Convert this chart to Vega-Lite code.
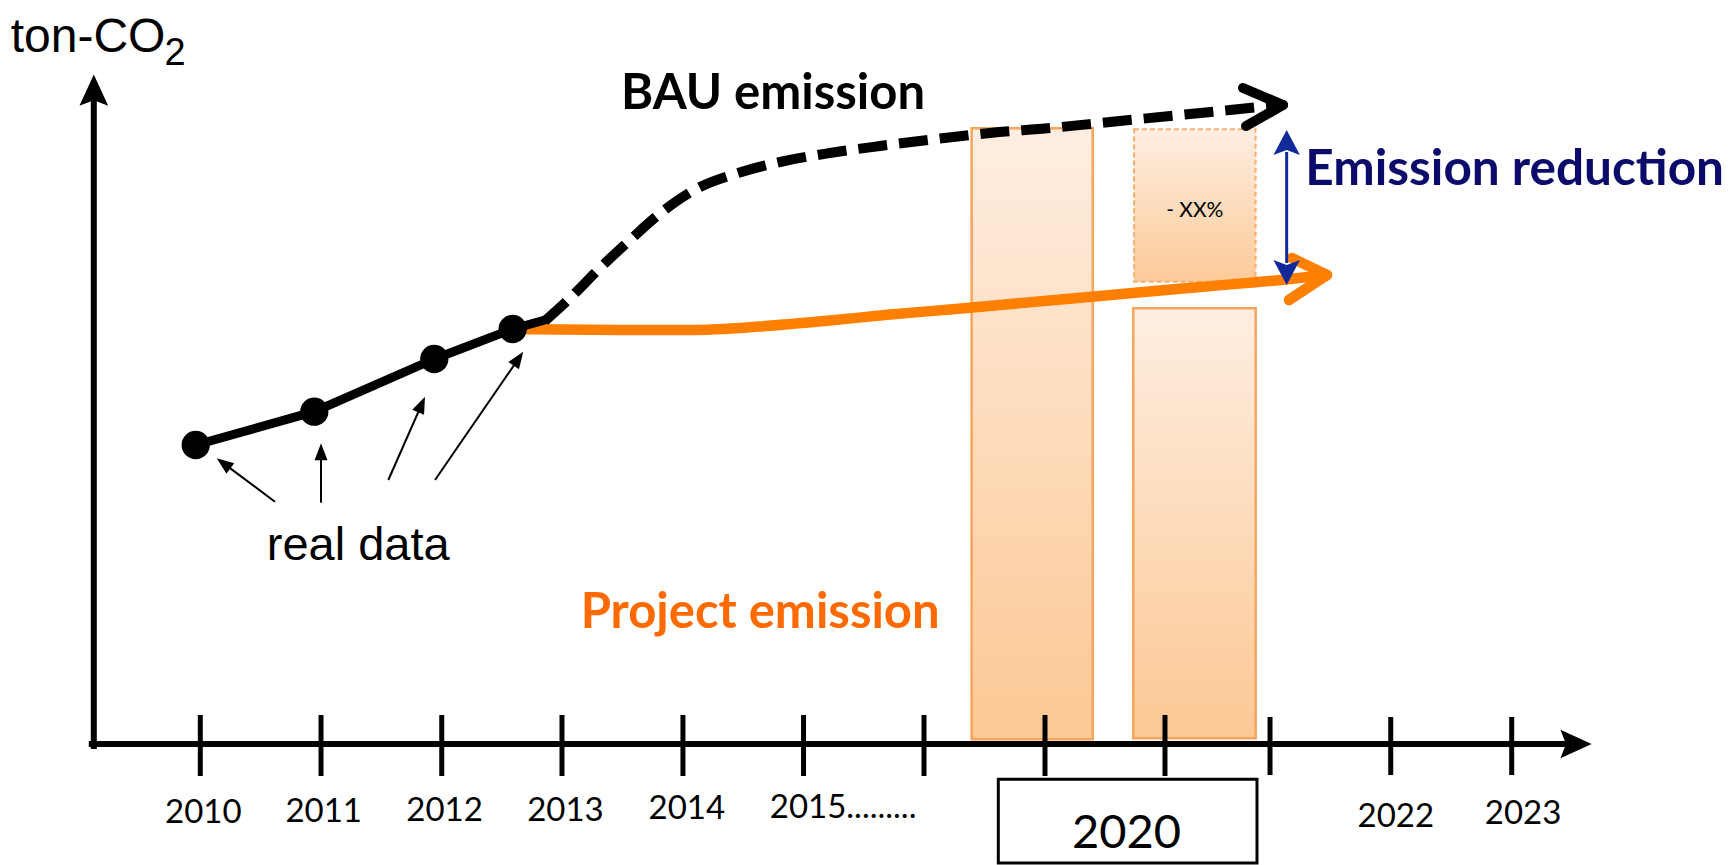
{
  "$schema": "https://vega.github.io/schema/vega-lite/v6.json",
  "width": 1729,
  "height": 865,
  "padding": 0,
  "autosize": "none",
  "background": "white",
  "config": {"view": {"stroke": null}},
  "datasets": {
    "bars": [
      {"bar": "2020 BAU", "x": 2016.396, "x2": 2017.400, "y": 0.47, "y2": 61.57},
      {"bar": "2020 project", "x": 2017.736, "x2": 2018.751, "y": 0.57, "y2": 43.57}
    ],
    "reductionBox": [
      {"bar": "2020 reduction", "x": 2017.742, "x2": 2018.750, "y": 46.23, "y2": 61.47}
    ],
    "frame": [
      {"x": 2016.617, "x2": 2018.762, "y": -3.53, "y2": -11.9}
    ],
    "ticks": [
      {"x": 2010.000, "y": -3.2, "y2": 2.9},
      {"x": 2011.001, "y": -3.2, "y2": 2.9},
      {"x": 2012.002, "y": -3.2, "y2": 2.9},
      {"x": 2012.999, "y": -3.2, "y2": 2.9},
      {"x": 2014.002, "y": -3.2, "y2": 2.9},
      {"x": 2015.002, "y": -3.2, "y2": 2.9},
      {"x": 2016.001, "y": -3.2, "y2": 2.9},
      {"x": 2017.004, "y": -3.2, "y2": 2.9},
      {"x": 2017.999, "y": -3.2, "y2": 2.9},
      {"x": 2018.870, "y": -3.1, "y2": 2.7},
      {"x": 2019.871, "y": -3.1, "y2": 2.7},
      {"x": 2020.874, "y": -3.1, "y2": 2.7}
    ],
    "axes": [
      {"axis": "x", "x": 2009.10, "y": 0, "x2": 2021.36, "y2": 0},
      {"axis": "y", "x": 2009.117, "y": -0.2, "x2": 2009.117, "y2": 64.3}
    ],
    "axisHeads": [
      {"axis": "x", "x": 2021.537, "y": 0, "heading": 90},
      {"axis": "y", "x": 2009.117, "y": 66.94, "heading": 0}
    ],
    "yearLabels": [
      {"label": "2010", "x": 2010.025, "y": -7.93},
      {"label": "2011", "x": 2011.023, "y": -7.77},
      {"label": "2012", "x": 2012.025, "y": -7.67},
      {"label": "2013", "x": 2013.028, "y": -7.67},
      {"label": "2014", "x": 2014.034, "y": -7.53},
      {"label": "2022", "x": 2019.913, "y": -8.27},
      {"label": "2023", "x": 2020.968, "y": -8.0}
    ],
    "history": [
      {"x": 2009.962, "y": 29.9},
      {"x": 2010.945, "y": 33.23},
      {"x": 2011.940, "y": 38.5},
      {"x": 2012.590, "y": 41.5},
      {"x": 2012.858, "y": 42.4}
    ],
    "observed": [
      {"year": "2010", "x": 2009.962, "y": 29.9},
      {"year": "2011", "x": 2010.945, "y": 33.23},
      {"year": "2012", "x": 2011.940, "y": 38.5},
      {"year": "2013", "x": 2012.590, "y": 41.5}
    ],
    "bau": [
      {"x": 2012.857, "y": 42.3},
      {"x": 2013.066, "y": 44.6},
      {"x": 2013.314, "y": 47.6},
      {"x": 2013.563, "y": 50.4},
      {"x": 2013.828, "y": 53.2},
      {"x": 2014.127, "y": 55.6},
      {"x": 2014.459, "y": 57.1},
      {"x": 2014.807, "y": 58.2},
      {"x": 2015.221, "y": 59.1},
      {"x": 2015.636, "y": 59.8},
      {"x": 2016.134, "y": 60.55},
      {"x": 2016.548, "y": 61.1},
      {"x": 2017.046, "y": 61.6},
      {"x": 2017.543, "y": 62.2},
      {"x": 2018.041, "y": 62.8},
      {"x": 2018.538, "y": 63.4},
      {"x": 2018.961, "y": 63.95}
    ],
    "project": [
      {"x": 2012.610, "y": 41.5},
      {"x": 2012.983, "y": 41.45},
      {"x": 2013.480, "y": 41.4},
      {"x": 2014.061, "y": 41.4},
      {"x": 2014.641, "y": 41.75},
      {"x": 2015.221, "y": 42.35},
      {"x": 2015.719, "y": 42.95},
      {"x": 2016.216, "y": 43.45},
      {"x": 2016.631, "y": 43.9},
      {"x": 2017.460, "y": 44.8},
      {"x": 2018.289, "y": 45.7},
      {"x": 2019.036, "y": 46.5},
      {"x": 2019.330, "y": 46.9}
    ],
    "chevrons": [
      {"series": "BAU", "x": 2018.978, "y": 63.9, "x2": 2018.646, "y2": 65.6},
      {"series": "BAU", "x": 2018.978, "y": 63.9, "x2": 2018.671, "y2": 61.8},
      {"series": "Project", "x": 2019.342, "y": 46.9, "x2": 2019.052, "y2": 48.6},
      {"series": "Project", "x": 2019.342, "y": 46.9, "x2": 2019.027, "y2": 44.4}
    ],
    "reductionArrow": [
      {"x": 2019.008, "y": 48.1, "x2": 2019.008, "y2": 59.2}
    ],
    "reductionHeads": [
      {"x": 2019.008, "y": 61.4, "heading": 0},
      {"x": 2019.008, "y": 45.9, "heading": 180}
    ],
    "pointers": [
      {"x": 2010.619, "y": 24.23, "x2": 2010.190, "y2": 28.09},
      {"x": 2011.001, "y": 24.13, "x2": 2011.001, "y2": 29.27},
      {"x": 2011.559, "y": 26.4, "x2": 2011.837, "y2": 34.0},
      {"x": 2011.946, "y": 26.4, "x2": 2012.641, "y2": 38.57}
    ],
    "pointerHeads": [
      {"x": 2010.136, "y": 28.57, "heading": 306.7},
      {"x": 2011.001, "y": 30.07, "heading": 0},
      {"x": 2011.863, "y": 34.73, "heading": 23.8},
      {"x": 2012.678, "y": 39.23, "heading": 34.5}
    ],
    "notes": [
      {"note": "ton-CO", "x": 2008.428, "y": 69.23},
      {"note": "2", "x": 2009.704, "y": 67.9},
      {"note": "real data", "x": 2010.551, "y": 18.4},
      {"note": "BAU emission", "x": 2013.488, "y": 63.47},
      {"note": "Project emission", "x": 2013.154, "y": 11.57},
      {"note": "Emission reduction", "x": 2019.163, "y": 55.9},
      {"note": "- XX%", "x": 2018.246, "y": 52.7},
      {"note": "2015.........", "x": 2014.722, "y": -7.43},
      {"note": "2020", "x": 2017.680, "y": -10.4}
    ]
  },
  "encoding": {
    "x": {"field": "x", "type": "quantitative", "scale": {"domain": [2008.3391, 2022.6758], "nice": false, "zero": false}, "axis": null},
    "y": {"field": "y", "type": "quantitative", "scale": {"domain": [-12.1, 74.4], "nice": false, "zero": false}, "axis": null}
  },
  "layer": [
    {
      "data": {"name": "bars"},
      "mark": {"type": "rect", "stroke": "#F7A45E", "strokeWidth": 2.5,
        "fill": {"gradient": "linear", "x1": 0, "y1": 0, "x2": 0, "y2": 1,
          "stops": [{"offset": 0, "color": "#FEEEE1"}, {"offset": 1, "color": "#FCC894"}]}},
      "encoding": {"x2": {"field": "x2"}, "y2": {"field": "y2"}}
    },
    {
      "data": {"name": "reductionBox"},
      "mark": {"type": "rect", "stroke": "#F8B070", "strokeWidth": 2, "strokeDash": [5, 3],
        "fill": {"gradient": "linear", "x1": 0, "y1": 0, "x2": 0, "y2": 1,
          "stops": [{"offset": 0, "color": "#FEEEE1"}, {"offset": 1, "color": "#FCCA98"}]}},
      "encoding": {"x2": {"field": "x2"}, "y2": {"field": "y2"}}
    },
    {
      "data": {"name": "frame"},
      "mark": {"type": "rect", "fill": "white", "stroke": "black", "strokeWidth": 3},
      "encoding": {"x2": {"field": "x2"}, "y2": {"field": "y2"}}
    },
    {
      "data": {"name": "ticks"},
      "mark": {"type": "rule", "color": "black", "strokeWidth": 5},
      "encoding": {"y2": {"field": "y2"}}
    },
    {
      "data": {"name": "axes"},
      "mark": {"type": "rule", "color": "black", "strokeWidth": 6, "strokeCap": "square"},
      "encoding": {"x2": {"field": "x2"}, "y2": {"field": "y2"}}
    },
    {
      "data": {"name": "axisHeads"},
      "mark": {"type": "point", "shape": "M0,0L0.46,1L0,0.82L-0.46,1Z", "size": 3900, "filled": true, "color": "black", "opacity": 1, "strokeWidth": 0},
      "encoding": {"angle": {"field": "heading", "type": "quantitative", "scale": null}}
    },
    {
      "data": {"name": "yearLabels"},
      "mark": {"type": "text", "font": "Lato", "fontSize": 33, "align": "center", "baseline": "alphabetic", "color": "black"},
      "encoding": {"text": {"field": "label"}}
    },
    {
      "data": {"name": "notes"},
      "transform": [{"filter": "datum.note === '2015.........'"}],
      "mark": {"type": "text", "font": "Lato", "fontSize": 33, "align": "left", "baseline": "alphabetic", "color": "black"},
      "encoding": {"text": {"field": "note"}}
    },
    {
      "data": {"name": "notes"},
      "transform": [{"filter": "datum.note === '2020'"}],
      "mark": {"type": "text", "font": "Lato", "fontSize": 47, "align": "center", "baseline": "alphabetic", "color": "black"},
      "encoding": {"text": {"field": "note"}}
    },
    {
      "data": {"name": "project"},
      "mark": {"type": "line", "color": "#FF7F00", "strokeWidth": 10.5, "interpolate": "monotone", "strokeCap": "butt"}
    },
    {
      "data": {"name": "bau"},
      "mark": {"type": "line", "color": "black", "strokeWidth": 10, "strokeDash": [29, 12], "interpolate": "monotone", "strokeCap": "butt"}
    },
    {
      "data": {"name": "history"},
      "mark": {"type": "line", "color": "black", "strokeWidth": 9, "strokeCap": "round", "strokeJoin": "round"}
    },
    {
      "data": {"name": "observed"},
      "mark": {"type": "point", "shape": "circle", "size": 800, "filled": true, "color": "black", "opacity": 1, "strokeWidth": 0}
    },
    {
      "data": {"name": "chevrons"},
      "transform": [{"filter": "datum.series === 'BAU'"}],
      "mark": {"type": "rule", "color": "black", "strokeWidth": 10, "strokeCap": "round"},
      "encoding": {"x2": {"field": "x2"}, "y2": {"field": "y2"}}
    },
    {
      "data": {"name": "chevrons"},
      "transform": [{"filter": "datum.series === 'Project'"}],
      "mark": {"type": "rule", "color": "#FF7F00", "strokeWidth": 10.5, "strokeCap": "round"},
      "encoding": {"x2": {"field": "x2"}, "y2": {"field": "y2"}}
    },
    {
      "data": {"name": "reductionArrow"},
      "mark": {"type": "rule", "color": "#102A9A", "strokeWidth": 3},
      "encoding": {"x2": {"field": "x2"}, "y2": {"field": "y2"}}
    },
    {
      "data": {"name": "reductionHeads"},
      "mark": {"type": "point", "shape": "M0,0L0.53,1L0,0.8L-0.53,1Z", "size": 2500, "filled": true, "color": "#102A9A", "opacity": 1, "strokeWidth": 0},
      "encoding": {"angle": {"field": "heading", "type": "quantitative", "scale": null}}
    },
    {
      "data": {"name": "pointers"},
      "mark": {"type": "rule", "color": "black", "strokeWidth": 2},
      "encoding": {"x2": {"field": "x2"}, "y2": {"field": "y2"}}
    },
    {
      "data": {"name": "pointerHeads"},
      "mark": {"type": "point", "shape": "M0,0L0.38,1L-0.38,1Z", "size": 1156, "filled": true, "color": "black", "opacity": 1, "strokeWidth": 0},
      "encoding": {"angle": {"field": "heading", "type": "quantitative", "scale": null}}
    },
    {
      "data": {"name": "notes"},
      "transform": [{"filter": "datum.note === 'ton-CO'"}],
      "mark": {"type": "text", "font": "Liberation Sans", "fontSize": 48, "align": "left", "baseline": "alphabetic", "color": "black"},
      "encoding": {"text": {"field": "note"}}
    },
    {
      "data": {"name": "notes"},
      "transform": [{"filter": "datum.note === '2'"}],
      "mark": {"type": "text", "font": "Liberation Sans", "fontSize": 38, "align": "left", "baseline": "alphabetic", "color": "black"},
      "encoding": {"text": {"field": "note"}}
    },
    {
      "data": {"name": "notes"},
      "transform": [{"filter": "datum.note === 'real data'"}],
      "mark": {"type": "text", "font": "Liberation Sans", "fontSize": 47, "align": "left", "baseline": "alphabetic", "color": "black"},
      "encoding": {"text": {"field": "note"}}
    },
    {
      "data": {"name": "notes"},
      "transform": [{"filter": "datum.note === 'BAU emission'"}],
      "mark": {"type": "text", "font": "Lato", "fontWeight": "bold", "fontSize": 49, "align": "left", "baseline": "alphabetic", "color": "black"},
      "encoding": {"text": {"field": "note"}}
    },
    {
      "data": {"name": "notes"},
      "transform": [{"filter": "datum.note === 'Project emission'"}],
      "mark": {"type": "text", "font": "Lato", "fontWeight": "bold", "fontSize": 49, "align": "left", "baseline": "alphabetic", "color": "#FF6A00"},
      "encoding": {"text": {"field": "note"}}
    },
    {
      "data": {"name": "notes"},
      "transform": [{"filter": "datum.note === 'Emission reduction'"}],
      "mark": {"type": "text", "font": "Lato", "fontWeight": "bold", "fontSize": 49.5, "align": "left", "baseline": "alphabetic", "color": "#0B0B6B"},
      "encoding": {"text": {"field": "note"}}
    },
    {
      "data": {"name": "notes"},
      "transform": [{"filter": "datum.note === '- XX%'"}],
      "mark": {"type": "text", "font": "Lato", "fontSize": 21, "align": "center", "baseline": "alphabetic", "color": "black"},
      "encoding": {"text": {"field": "note"}}
    }
  ]
}
